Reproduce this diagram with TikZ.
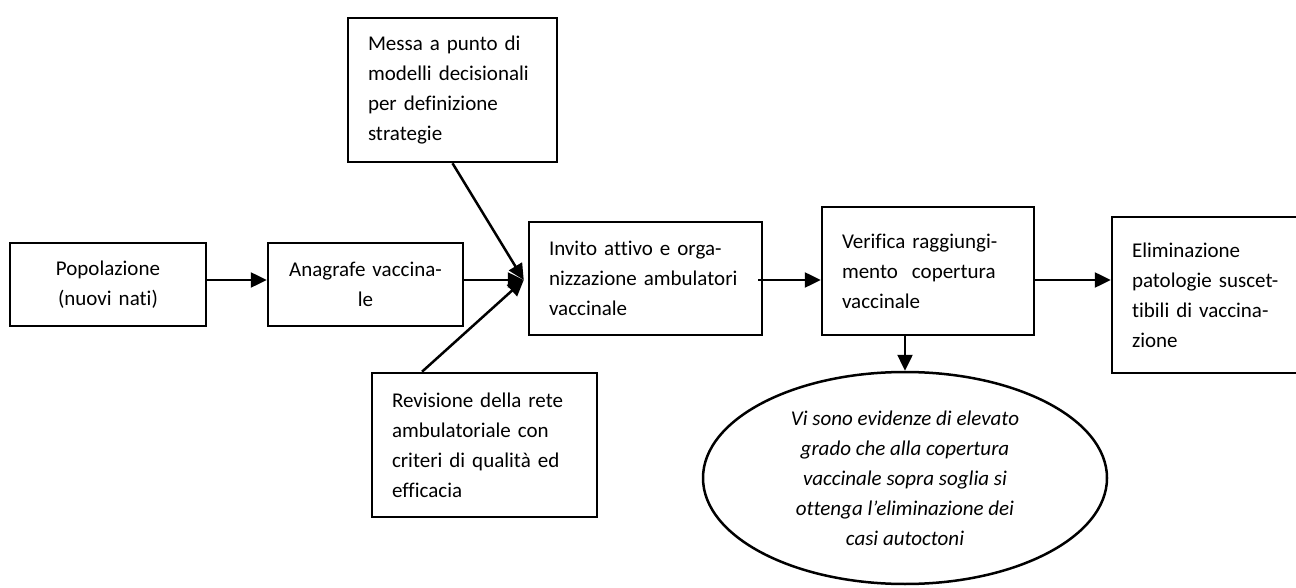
\documentclass[tikz,border=0pt]{standalone}
\usepackage{fontspec}
\setmainfont{Carlito}[Ligatures=NoCommon]
\usetikzlibrary{shapes.geometric,arrows.meta}

\begin{document}
\begin{tikzpicture}[x=.5pt,y=-.5pt,
  box/.style={draw,line width=1.25pt,inner xsep=10pt,inner ysep=0pt,align=left,
    font=\fontsize{10.5pt}{15pt}\selectfont},
  cbox/.style={box,align=center},
  arr/.style={line width=1.25pt,-{Triangle[length=8pt,width=7.5pt]}}]
%\draw[help lines] (0,0) grid[step=50] (1296,588);
\useasboundingbox (0,0) rectangle (1296,588);

% main chain
\node[cbox,minimum width=98pt,minimum height=41.5pt,text width=78pt] (pop) at (108,284.5)
  {Popolazione\\ (nuovi nati)};
\node[cbox,minimum width=97.5pt,minimum height=41.5pt,text width=77.5pt] (ana) at (365.5,284.5)
  {Anagrafe vaccina-\\ le};
\node[box,minimum width=116.5pt,minimum height=56.5pt,text width=96.5pt] (invito) at (645.5,278.5)
  {Invito attivo e orga-\\ nizzazione ambulatori\\ vaccinale};
\node[box,minimum width=106pt,minimum height=64pt,text width=86pt] (verif) at (928,271)
  {Verifica raggiungi-\\ mento\ \ copertura\\ vaccinale};
\node[box,minimum width=96pt,minimum height=78pt,text width=76pt] (elim) at (1208,295)
  {Eliminazione\\ patologie suscet-\\ tibili di vaccina-\\ zione};

% side inputs
\node[box,minimum width=104.5pt,minimum height=72pt,text width=84.5pt] (messa) at (452.5,90)
  {Messa a punto di\\ modelli decisionali\\ per definizione\\ strategie};
\node[box,minimum width=112.5pt,minimum height=72pt,text width=92.5pt] (revis) at (484.5,445)
  {Revisione della rete\\ ambulatoriale con\\ criteri di qualità ed\\ efficacia};

% outcome
\node[draw,ellipse,line width=1.25pt,minimum width=202pt,minimum height=106pt,inner sep=0pt,
  align=center,font=\fontsize{10.5pt}{15pt}\selectfont\itshape] (evid) at (905,478)
  {Vi sono evidenze di elevato\\ grado che alla copertura\\ vaccinale sopra soglia si\\
   ottenga l’eliminazione dei\\ casi autoctoni};

\coordinate (hub) at ([xshift=-2pt,yshift=-.75pt]invito.west);

\draw[arr] ([yshift=2.25pt]pop.east) -- ([yshift=2.25pt]ana.west);
\draw[arr] ([yshift=2.25pt]ana.east) -- (hub);
\draw[arr] (messa.south) -- (hub);
\draw[arr] ([xshift=-31.25pt]revis.north) -- (hub);
\draw[arr] ([xshift=-2.5pt,yshift=-.75pt]invito.east) -- ([yshift=-4.5pt]verif.west);
\draw[arr] ([yshift=-4.5pt]verif.east) -- ([yshift=7.5pt]elim.west);
\draw[arr] ([xshift=-11.5pt]verif.south) -- (evid.north);
\end{tikzpicture}
\end{document}
